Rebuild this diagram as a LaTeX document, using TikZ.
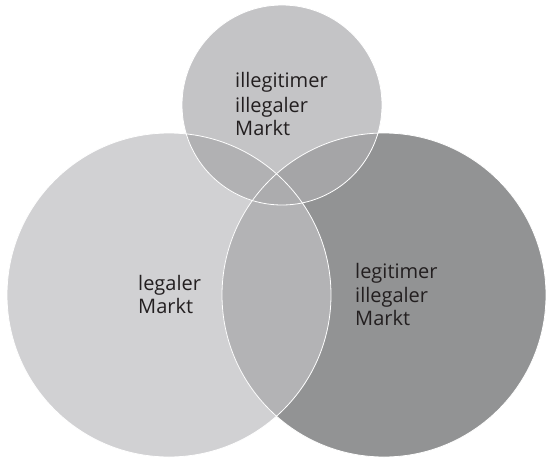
\documentclass[tikz,border=0pt]{standalone}
\usepackage{fontspec}
\setmainfont{Open Sans}
\definecolor{cL}{HTML}{D1D1D3}
\definecolor{cT}{HTML}{C4C4C6}
\definecolor{cR}{HTML}{929394}
\definecolor{cLR}{HTML}{B3B3B5}
\definecolor{cLT}{HTML}{B1B1B3}
\definecolor{cTR}{HTML}{A5A5A7}
\definecolor{cLTR}{HTML}{ACACAE}
\definecolor{txt}{HTML}{231F20}
\tikzset{
  lbl/.style={anchor=base west, inner sep=0pt, text=txt, font=\fontsize{20}{23}\selectfont},
  rim/.style={draw=white, line width=0.8pt}
}
\begin{document}
\begin{tikzpicture}[x=1pt,y=-1pt]
\useasboundingbox (0,0) rectangle (546,460);
\def\Lc{(169,295) circle (162)}
\def\Rc{(384,295) circle (162)}
\def\Tc{(282,105) circle (100)}
\fill[cL] \Lc;
\fill[cR] \Rc;
\fill[cT] \Tc;
\begin{scope}\clip \Lc; \fill[cLR] \Rc; \end{scope}
\begin{scope}\clip \Lc; \fill[cLT] \Tc; \end{scope}
\begin{scope}\clip \Tc; \fill[cTR] \Rc; \end{scope}
\begin{scope}\clip \Lc; \clip \Tc; \fill[cLTR] \Rc; \end{scope}
\draw[rim] \Lc;
\draw[rim] \Rc;
\draw[rim] \Tc;
\node[lbl] (t1) at (235,88) {illegitimer};
\node[lbl] (t2) at (235,112) {illegaler};
\node[lbl] (t3) at (235,135) {Markt};
\node[lbl] (l1) at (138,290) {legaler};
\node[lbl] (l2) at (138,313) {Markt};
\node[lbl] (r1) at (355,278) {legitimer};
\node[lbl] (r2) at (355,302) {illegaler};
\node[lbl] (r3) at (355,325) {Markt};
\end{tikzpicture}
\end{document}
